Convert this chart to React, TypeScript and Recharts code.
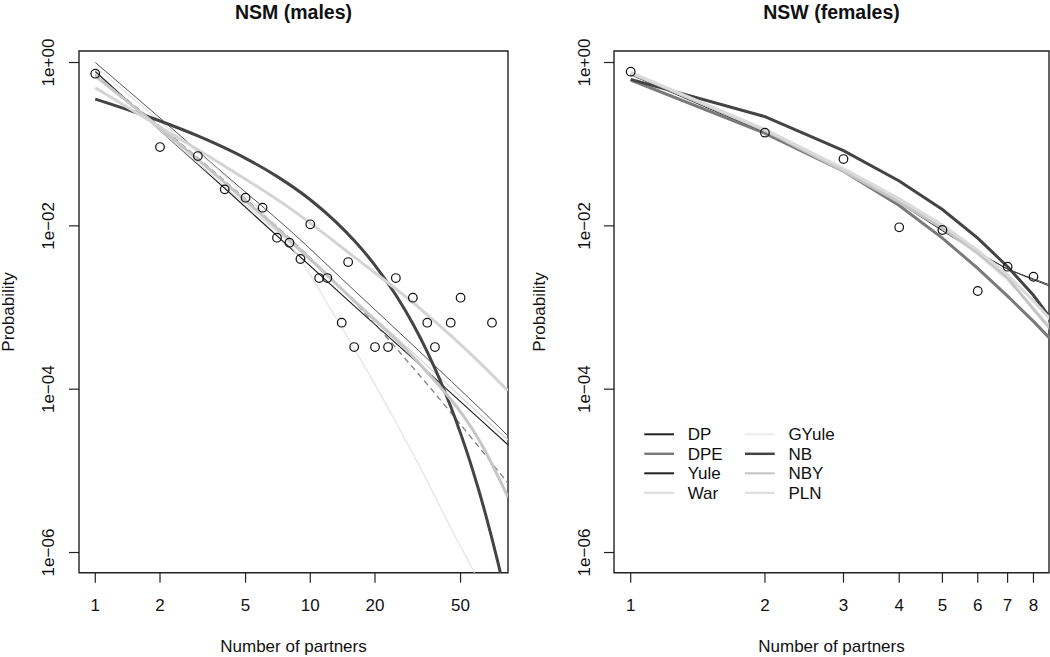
import React from 'react';
import { ComposedChart, Line, Scatter, XAxis, YAxis, ReferenceArea } from 'recharts';

const FONT = '"Liberation Sans", Arial, Helvetica, sans-serif';

// ---------- NSM (males): observed points, y in log10(probability) ----------
const nsmPartners = [1, 2, 3, 4, 5, 6, 7, 8, 9, 10, 11, 12, 14, 15, 16, 20, 23, 25, 30, 35, 38, 45, 50, 70];
const nsmLogProb = [-0.137, -1.035, -1.145, -1.553, -1.655, -1.778, -2.145, -2.206, -2.406, -1.981, -2.639, -2.639, -3.186, -2.443, -3.484, -3.484, -3.484, -2.639, -2.88, -3.186, -3.484, -3.186, -2.88, -3.186];

// NSM fitted curves (log10 probability)
const nsmFitX = [1, 2, 4, 8, 16, 32, 64, 83];
const nsmDP = [-0.11, -0.83, -1.54, -2.26, -2.98, -3.69, -4.41, -4.68];
const nsmDPE = [-0.15, -0.78, -1.45, -2.15, -2.93, -3.82, -4.78, -5.15];
const nsmYule = [0, -0.68, -1.37, -2.05, -2.79, -3.53, -4.28, -4.57];
const nsmWar = [-0.14, -0.83, -1.52, -2.2, -2.9, -3.62, -4.35, -4.62];
const nsmGYuleX = [1, 2, 4, 8, 10, 12, 16, 24, 32, 48, 58, 64];
const nsmGYule = [-0.05, -0.72, -1.39, -2.22, -2.6, -2.95, -3.5, -4.32, -4.93, -5.84, -6.25, -6.5];
const nsmNBX = [1, 1.5, 2, 3, 4, 5, 7, 10, 13, 16, 20, 25, 30, 35, 40, 45, 50, 55, 60, 65, 70, 75, 80];
const nsmNB = [-0.447, -0.6, -0.716, -0.899, -1.046, -1.173, -1.394, -1.68, -1.938, -2.179, -2.483, -2.847, -3.199, -3.542, -3.88, -4.212, -4.541, -4.865, -5.189, -5.509, -5.829, -6.146, -6.462];
const nsmNBY = [-0.166, -0.8, -1.47, -2.17, -2.92, -3.68, -4.72, -5.32];
const nsmPLN = [-0.308, -0.79, -1.27, -1.78, -2.38, -3.0, -3.72, -4.02];

// ---------- NSW (females) ----------
const nswPartners = [1, 2, 3, 4, 5, 6, 7, 8];
const nswLogProb = [-0.112, -0.859, -1.182, -2.018, -2.051, -2.798, -2.5, -2.623];

const nswFitX = [1, 2, 3, 4, 5, 6, 7, 8, 9];
const nswDP = [-0.15, -0.86, -1.34, -1.72, -2.06, -2.33, -2.53, -2.66, -2.77];
const nswDPE = [-0.214, -0.867, -1.33, -1.75, -2.15, -2.52, -2.86, -3.17, -3.46];
const nswYule = [-0.14, -0.85, -1.33, -1.71, -2.05, -2.32, -2.53, -2.65, -2.75];
const nswWar = [-0.13, -0.84, -1.31, -1.68, -2.01, -2.32, -2.62, -2.93, -3.24];
const nswGYule = [-0.14, -0.84, -1.32, -1.69, -2.03, -2.36, -2.68, -3.0, -3.3];
const nswNB = [-0.206, -0.663, -1.08, -1.45, -1.8, -2.15, -2.5, -2.85, -3.23];
const nswNBY = [-0.13, -0.83, -1.33, -1.71, -2.03, -2.33, -2.64, -3.02, -3.35];
const nswPLN = [-0.12, -0.82, -1.3, -1.67, -1.99, -2.3, -2.6, -2.92, -3.22];

// ---------- axes ----------
const yTicks = [0, -2, -4, -6];
const nsmXTicks = [1, 2, 5, 10, 20, 50];
const nswXTicks = [1, 2, 3, 4, 5, 6, 7, 8];
const yDomain: [number, number] = [-6.247, 0.141];
const nsmXDomain: [number, number] = [0.84, 83.1];
const nswXDomain: [number, number] = [0.9174, 8.668];

// ---------- legend ----------
const legendNames = ['DP', 'DPE', 'Yule', 'War', 'GYule', 'NB', 'NBY', 'PLN'];
const legendColors = ['#222222', '#7a7a7a', '#222222', '#dcdcdc', '#ececec', '#444444', '#c4c4c4', '#dcdcdc'];
const legendWidths = [2, 2.5, 2, 2, 2, 2.5, 2, 2];

const zip = (xs: number[], ys: number[]) => xs.map((x, i) => ({ x, y: ys[i] }));

const fmtExp = (v: number) => {
  const a = Math.abs(Math.round(v));
  const s = a < 10 ? '0' + a : String(a);
  return v >= 0 ? '1e+' + s : '1e\u2212' + s;
};

type LineSpec = { data: { x: number; y: number }[]; color: string; width: number; dash?: string; curve: 'linear' | 'monotone' };

const Circle = (p: any) => <circle cx={p.cx} cy={p.cy} r={4.3} fill="none" stroke="#111" strokeWidth={1.2} />;

function Panel(props: {
  width: number;
  left: number;
  marginLeft: number;
  marginRight: number;
  xDomain: [number, number];
  xTicks: number[];
  yLabelX: number;
  points: { x: number; y: number }[];
  lines: LineSpec[];
}) {
  const { width, left, marginLeft, marginRight, xDomain, xTicks, yLabelX, points, lines } = props;
  const yTickRender = (tp: any) => (
    <text
      x={yLabelX}
      y={tp.y}
      transform={`rotate(-90, ${yLabelX}, ${tp.y})`}
      textAnchor="middle"
      fontSize={17}
      fontFamily={FONT}
      fill="#111"
    >
      {fmtExp(tp.payload.value)}
    </text>
  );
  const xTickRender = (tp: any) => (
    <text x={tp.x} y={611} textAnchor="middle" fontSize={17} fontFamily={FONT} fill="#111">
      {tp.payload.value}
    </text>
  );
  return (
    <div style={{ position: 'absolute', left, top: 0 }}>
      <ComposedChart width={width} height={657} margin={{ top: 51, right: marginRight, bottom: 54.3, left: marginLeft }}>
        <XAxis
          type="number"
          dataKey="x"
          scale="log"
          domain={xDomain}
          allowDataOverflow
          ticks={xTicks}
          interval={0}
          height={30}
          axisLine={false}
          tickLine={{ stroke: '#222', strokeWidth: 1.2 }}
          tickSize={10}
          tick={xTickRender}
        />
        <YAxis
          type="number"
          dataKey="y"
          domain={yDomain}
          allowDataOverflow
          ticks={yTicks}
          interval={0}
          width={60}
          axisLine={false}
          tickLine={{ stroke: '#222', strokeWidth: 1.2 }}
          tickSize={10}
          tick={yTickRender}
        />
        <ReferenceArea
          x1={xDomain[0]}
          x2={xDomain[1]}
          y1={yDomain[0]}
          y2={yDomain[1]}
          fill="none"
          fillOpacity={0}
          stroke="#222"
          strokeWidth={1.4}
          ifOverflow="visible"
        />
        <Scatter data={points} dataKey="y" shape={Circle} isAnimationActive={false} />
        {lines.map((l, i) => (
          <Line
            key={i}
            data={l.data}
            dataKey="y"
            type={l.curve}
            stroke={l.color}
            strokeWidth={l.width}
            strokeDasharray={l.dash}
            dot={false}
            activeDot={false}
            isAnimationActive={false}
          />
        ))}
      </ComposedChart>
    </div>
  );
}

export default function App() {
  const nsmLines: LineSpec[] = [
    { data: zip(nsmFitX, nsmDP), color: '#222222', width: 1.2, curve: 'linear' },
    { data: zip(nsmFitX, nsmDPE), color: '#7a7a7a', width: 1.2, dash: '6 4', curve: 'monotone' },
    { data: zip(nsmFitX, nsmYule), color: '#555555', width: 1, curve: 'monotone' },
    { data: zip(nsmFitX, nsmWar), color: '#d8d8d8', width: 1.2, curve: 'monotone' },
    { data: zip(nsmGYuleX, nsmGYule), color: '#e4e4e4', width: 1.2, curve: 'monotone' },
    { data: zip(nsmNBX, nsmNB), color: '#444444', width: 3, curve: 'monotone' },
    { data: zip(nsmFitX, nsmNBY), color: '#c6c6c6', width: 3, curve: 'monotone' },
    { data: zip(nsmFitX, nsmPLN), color: '#d4d4d4', width: 3, curve: 'monotone' },
  ];
  const nswLines: LineSpec[] = [
    { data: zip(nswFitX, nswDP), color: '#333333', width: 1, curve: 'linear' },
    { data: zip(nswFitX, nswDPE), color: '#7a7a7a', width: 3, curve: 'linear' },
    { data: zip(nswFitX, nswYule), color: '#444444', width: 1, curve: 'linear' },
    { data: zip(nswFitX, nswWar), color: '#dcdcdc', width: 1.2, curve: 'linear' },
    { data: zip(nswFitX, nswGYule), color: '#ececec', width: 1.2, curve: 'linear' },
    { data: zip(nswFitX, nswNB), color: '#444444', width: 3, curve: 'linear' },
    { data: zip(nswFitX, nswNBY), color: '#c4c4c4', width: 3, curve: 'linear' },
    { data: zip(nswFitX, nswPLN), color: '#dadada', width: 3, curve: 'linear' },
  ];

  const legendLeft = 644.3;
  const legendTop = 434.3;
  const colGap = 100.7;
  const rowGap = 19.5;

  return (
    <div style={{ position: 'absolute', left: 0, top: 0, width: 1050, height: 657, background: '#fff', overflow: 'hidden' }}>
      <Panel
        width={530}
        left={0}
        marginLeft={19}
        marginRight={22}
        xDomain={nsmXDomain}
        xTicks={nsmXTicks}
        yLabelX={54.5}
        points={zip(nsmPartners, nsmLogProb)}
        lines={nsmLines}
      />
      <Panel
        width={520}
        left={530}
        marginLeft={24}
        marginRight={1}
        xDomain={nswXDomain}
        xTicks={nswXTicks}
        yLabelX={60.5}
        points={zip(nswPartners, nswLogProb)}
        lines={nswLines}
      />
      <svg width={1050} height={657} style={{ position: 'absolute', left: 0, top: 0, pointerEvents: 'none' }}>
        <g fontFamily={FONT} fill="#111">
          <text x={293.5} y={18.5} textAnchor="middle" fontSize={19.5} fontWeight="bold">NSM (males)</text>
          <text x={831.5} y={18.5} textAnchor="middle" fontSize={19.5} fontWeight="bold">NSW (females)</text>
          <text x={293.5} y={652} textAnchor="middle" fontSize={17}>Number of partners</text>
          <text x={831.5} y={652} textAnchor="middle" fontSize={17}>Number of partners</text>
          <text x={13.5} y={312} transform="rotate(-90, 13.5, 312)" textAnchor="middle" fontSize={17}>Probability</text>
          <text x={545} y={312} transform="rotate(-90, 545, 312)" textAnchor="middle" fontSize={17}>Probability</text>
          {legendNames.map((name, i) => {
            const col = Math.floor(i / 4);
            const row = i % 4;
            const lx = legendLeft + col * colGap;
            const ly = legendTop + row * rowGap;
            return (
              <g key={name}>
                <line x1={lx} x2={lx + 29.7} y1={ly} y2={ly} stroke={legendColors[i]} strokeWidth={legendWidths[i]} />
                <text x={lx + 43.4} y={ly + 6} fontSize={17}>{name}</text>
              </g>
            );
          })}
        </g>
      </svg>
    </div>
  );
}
